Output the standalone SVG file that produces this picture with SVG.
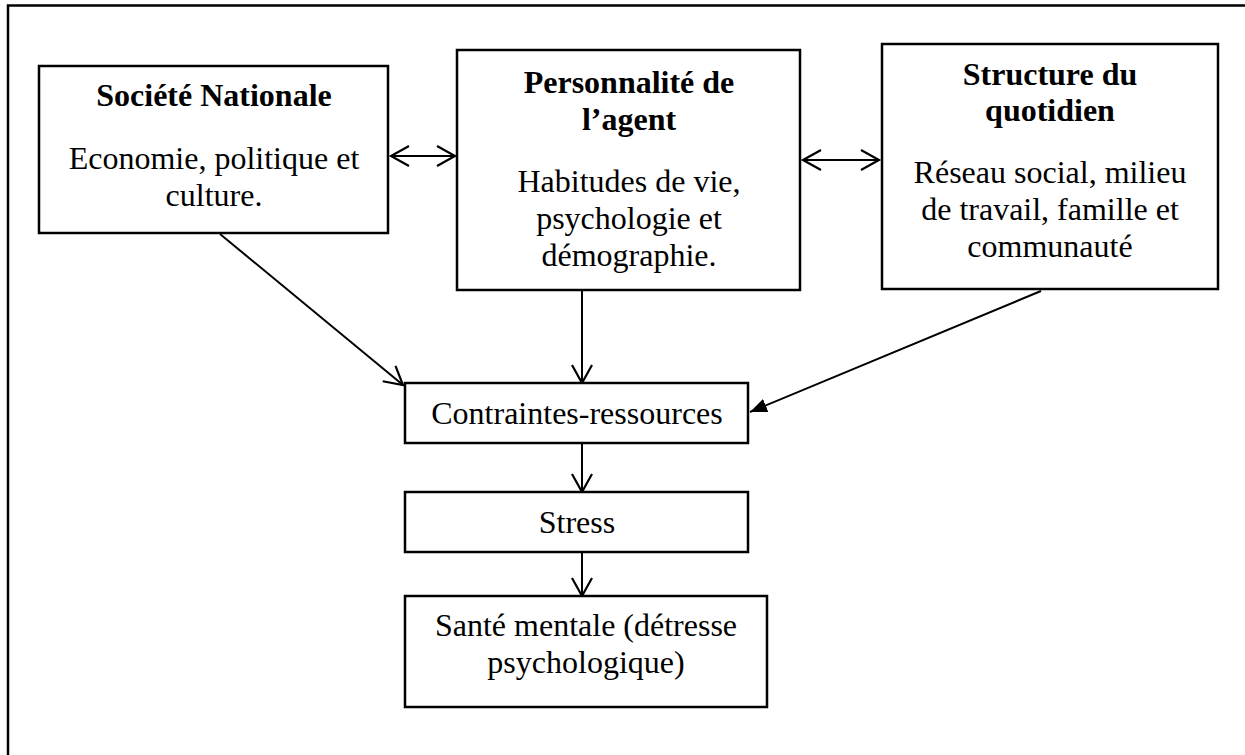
<svg xmlns="http://www.w3.org/2000/svg" width="1245" height="755" viewBox="0 0 1245 755">
<style>
.box{fill:#fff;stroke:#000;stroke-width:2.5}
.t{font-family:"Liberation Serif","Times New Roman",serif;font-size:32px;fill:#000;text-anchor:middle}
.b{font-weight:bold}
.c{stroke:#000;stroke-width:2;fill:none}
</style>
<defs>
<marker id="open" markerUnits="userSpaceOnUse" markerWidth="24" markerHeight="24" refX="19" refY="11" orient="auto-start-reverse">
<path d="M1,1 L19,11 L1,21" fill="none" stroke="#000" stroke-width="2.2"/>
</marker>
<marker id="fill" markerUnits="userSpaceOnUse" markerWidth="20" markerHeight="16" refX="17" refY="7" orient="auto">
<path d="M0,0 L17,7 L0,14 z" fill="#000"/>
</marker>
</defs>
<rect width="1245" height="755" fill="#fff"/>
<g id="frame">
<path d="M8,755 L8,5.5 L1245,5.5" fill="none" stroke="#000" stroke-width="2.5"/>
</g>
<g id="connectors">
<line class="c" x1="391" y1="156" x2="455" y2="156" marker-start="url(#open)" marker-end="url(#open)"/>
<line class="c" x1="803" y1="160" x2="879" y2="160" marker-start="url(#open)" marker-end="url(#open)"/>
<line class="c" x1="220" y1="234" x2="403" y2="385" marker-end="url(#open)"/>
<line class="c" x1="582" y1="291" x2="582" y2="383" marker-end="url(#open)"/>
<line class="c" x1="1041" y1="291" x2="750" y2="412" marker-end="url(#fill)"/>
<line class="c" x1="582" y1="444" x2="582" y2="492" marker-end="url(#open)"/>
<line class="c" x1="582" y1="553" x2="582" y2="596" marker-end="url(#open)"/>
</g>
<g id="societe">
<rect class="box" x="39" y="66" width="349" height="167"/>
<text class="t b" x="214" y="106">Société Nationale</text>
<text class="t" x="214" y="169">Economie, politique et</text>
<text class="t" x="214" y="206">culture.</text>
</g>
<g id="personnalite">
<rect class="box" x="457" y="50" width="343" height="240"/>
<text class="t b" x="629" y="93">Personnalité de</text>
<text class="t b" x="629" y="130">l’agent</text>
<text class="t" x="629" y="192">Habitudes de vie,</text>
<text class="t" x="629" y="229">psychologie et</text>
<text class="t" x="629" y="266">démographie.</text>
</g>
<g id="structure">
<rect class="box" x="882" y="44" width="336" height="245"/>
<text class="t b" x="1050" y="85">Structure du</text>
<text class="t b" x="1050" y="121">quotidien</text>
<text class="t" x="1050" y="183">Réseau social, milieu</text>
<text class="t" x="1050" y="220">de travail, famille et</text>
<text class="t" x="1050" y="257">communauté</text>
</g>
<g id="contraintes">
<rect class="box" x="405" y="383" width="343" height="60"/>
<text class="t" x="577" y="424">Contraintes-ressources</text>
</g>
<g id="stress">
<rect class="box" x="405" y="492" width="343" height="60"/>
<text class="t" x="577" y="533">Stress</text>
</g>
<g id="sante">
<rect class="box" x="405" y="596" width="362" height="111"/>
<text class="t" x="586" y="636">Santé mentale (détresse</text>
<text class="t" x="586" y="673">psychologique)</text>
</g>
</svg>
